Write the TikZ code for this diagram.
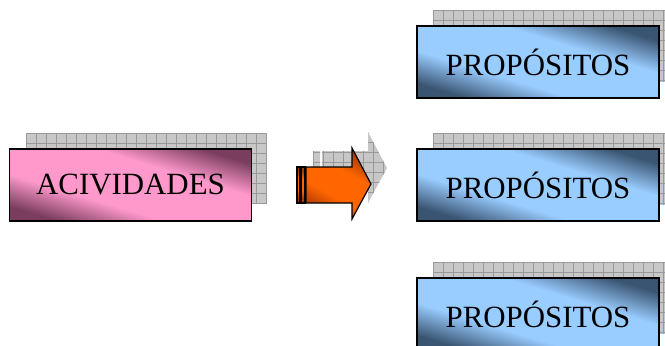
\documentclass[tikz,border=0pt]{standalone}
\usepackage{fontspec}
\setmainfont{Liberation Serif}
\definecolor{plight}{HTML}{FF99CC}
\definecolor{pdark}{HTML}{7A3D5E}
\definecolor{blight}{HTML}{99CCFF}
\definecolor{bdark}{HTML}{3A5572}
\definecolor{olight}{HTML}{FF6600}
\definecolor{odark}{HTML}{A83A00}
\pgfdeclarehorizontalshading{pinkshade}{100bp}{color(0bp)=(pdark); color(25bp)=(pdark); color(39bp)=(plight); color(61bp)=(plight); color(75bp)=(pdark); color(100bp)=(pdark)}
\pgfdeclarehorizontalshading{blueshade}{100bp}{color(0bp)=(bdark); color(25bp)=(bdark); color(39bp)=(blight); color(61bp)=(blight); color(75bp)=(bdark); color(100bp)=(bdark)}
\pgfdeclarehorizontalshading{orangeshade}{100bp}{color(0bp)=(odark); color(25bp)=(odark); color(40bp)=(olight); color(60bp)=(olight); color(75bp)=(odark); color(100bp)=(odark)}
\newcommand\gridlines[4]{%
  \pgfmathsetmacro\gxs{#1+10}%
  \foreach \gx in {#1,\gxs,...,#3} \draw[shgrid] (\gx,#2) -- (\gx,#4);%
  \pgfmathsetmacro\gys{#2+10}%
  \foreach \gy in {#2,\gys,...,#4} \draw[shgrid] (#1,\gy) -- (#3,\gy);%
}
\newcommand\shadowrect[4]{%
  \fill[shfill] (#1,#2) rectangle (#3,#4);%
  \begin{scope}\clip (#1,#2) rectangle (#3,#4);\gridlines{#1}{#2}{#3}{#4}\end{scope}%
}
\tikzset{
  shfill/.style={fill=black!22},
  shgrid/.style={draw=black!40, line width=0.5bp},
  boxbase/.style={draw=black, line width=1.3bp, inner sep=0pt,
    minimum width=242bp, minimum height=72bp, shading angle=73,
    font=\fontsize{31}{31}\selectfont},
  pinkbox/.style={boxbase, shading=pinkshade},
  bluebox/.style={boxbase, shading=blueshade},
  arrowpart/.style={draw=black, line width=1.2bp, shading=orangeshade, shading angle=60},
}
\begin{document}
\begin{tikzpicture}[x=1bp,y=-1bp]
\useasboundingbox (0,0) rectangle (665,345);
\clip (0,0) rectangle (665,345);
% shadows
\shadowrect{26}{133}{267}{204}
\shadowrect{433}{10}{675}{82}
\shadowrect{433}{133}{675}{205}
\shadowrect{433}{262}{675}{334}
% arrow shadow
\begin{scope}
  \clip (313,151) rectangle (320,187)
        (322,151) -- (368,151) -- (368,132) -- (387,168) -- (368,203) -- (368,187) -- (322,187) -- cycle;
  \fill[shfill] (310,130) rectangle (390,205);
  \gridlines{313}{132}{393}{212}
\end{scope}
% boxes
\node[pinkbox] (act) at (130.5,185) {ACIVIDADES};
\node[bluebox] (p1) at (538,62) {PROPÓSITOS};
\node[bluebox] (p2) at (538,185) {PROPÓSITOS};
\node[bluebox] (p3) at (538,314) {PROPÓSITOS};
% arrow
\shade[arrowpart] (297,167) rectangle (300,203);
\shade[arrowpart] (301,167) rectangle (305,203);
\shade[arrowpart] (306,167) -- (352,167) -- (352,148) -- (371,184) -- (352,219) -- (352,203) -- (306,203) -- cycle;
\end{tikzpicture}
\end{document}
